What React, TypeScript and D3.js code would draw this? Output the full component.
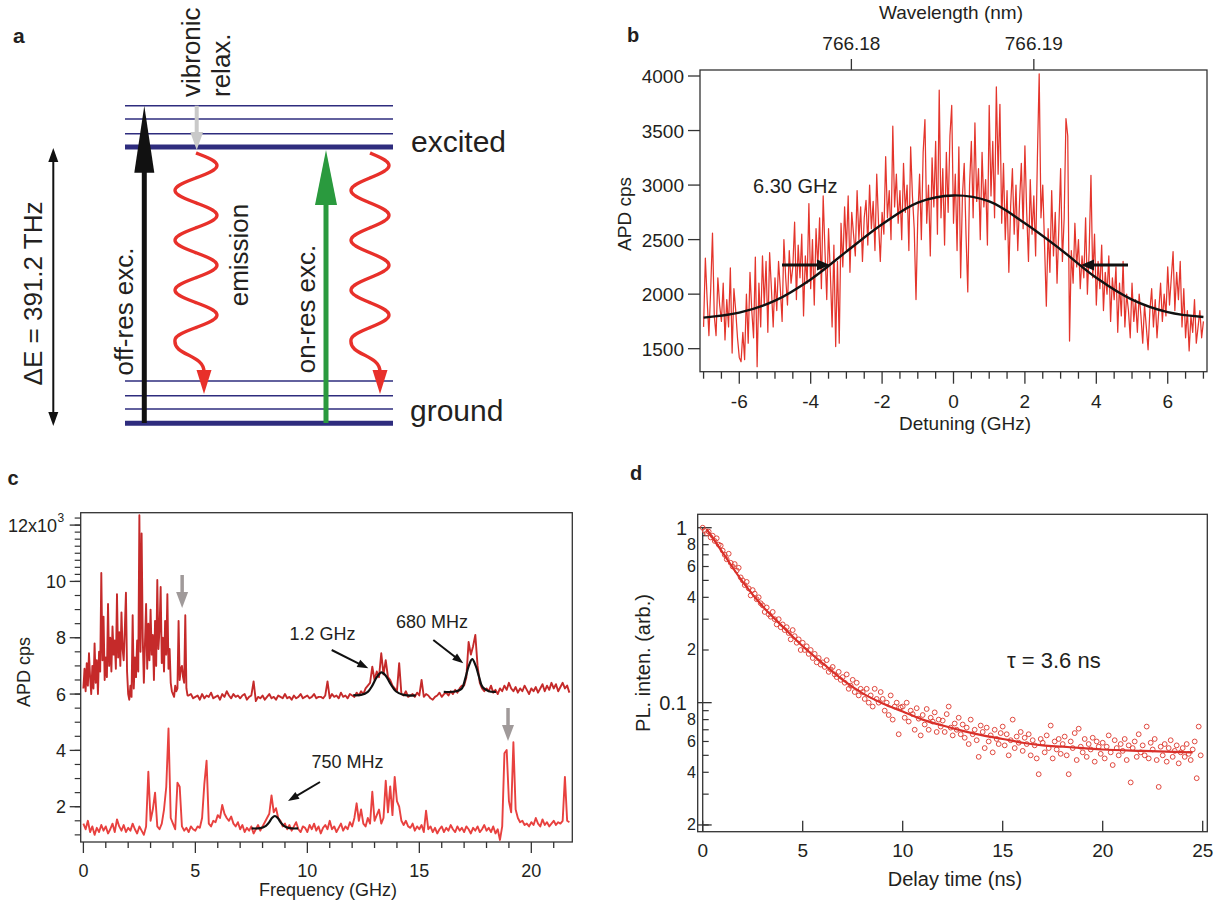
import React from 'react';
import * as d3 from 'd3';

const FONT = "'Liberation Sans', Arial, Helvetica, sans-serif";
const TXT = '#231f20';
const AX = '#333333';

// ---------------- Panel b data ----------------
const bDetuningStart = -7;
const bDetuningStep = 0.05;
const bCounts = [
  1700, 2330, 1950, 1620, 2050, 2560, 1800, 1620, 2150, 1900,
  1750, 2100, 1580, 1950, 1700, 2240, 1460, 2050, 1850, 1600,
  1420, 1380, 1650, 1400, 2000, 1550, 2200, 1850, 1600, 2340,
  1335, 2100, 1700, 2350, 1900, 2300, 1650, 2380, 2050, 1700,
  2150, 1850, 2300, 2050, 1750, 2500, 2150, 1900, 2400, 2100,
  2250, 2660, 1950, 2450, 2150, 2550, 1800, 2350, 2100, 2830,
  2050, 2500, 1900, 2600, 2250, 2700, 2050, 2900, 2400, 1950,
  2600, 2200, 1700, 2450, 1520, 2300, 1550, 2650, 2250, 2800,
  2400, 2900, 2200, 2750, 2550, 2350, 2950, 2500, 2800, 2300,
  2700, 2860, 2450, 3000, 2600, 2850, 2400, 3100, 2650, 2300,
  2750, 2550, 3260, 2700, 2950, 2500, 3540, 2800, 3100, 2650,
  2950, 2500, 3200, 2750, 3000, 2400, 3350, 2900, 2600, 1950,
  2700, 3100, 2500, 3300, 3600, 2650, 3000, 2350, 3250, 2800,
  3400, 2550, 3870, 2700, 3150, 2450, 3300, 2750, 3450, 3730,
  2650, 3100, 2400, 3350, 2150, 2900, 3200, 2550, 2020, 3000,
  3400, 2700, 3570, 2850, 3150, 2500, 3300, 2800, 3050, 2450,
  3730, 2900, 3400, 2700, 3900, 3100, 3740, 2650, 3200, 2500,
  2950, 2200, 2800, 3150, 2550, 3000, 2400, 2850, 3200, 2600,
  3360, 2750, 2300, 3050, 2550, 2900, 2350, 3250, 4020, 2700,
  3000, 2450, 1890, 2600, 2200, 2950, 2350, 2750, 2100, 2600,
  3150, 2300, 2700, 3610, 3450, 1570, 2400, 2100, 2650, 2250,
  2500, 2050, 2350, 2150, 2700, 2000, 2400, 3090, 2150, 2550,
  1900, 2300, 2050, 2450, 1850, 2200, 2000, 2350, 1750, 2150,
  1950, 2250, 1650, 2100, 1800, 2300, 1700, 2000, 1850, 1600,
  2100, 1750, 1950, 1650, 2000, 1800, 1550, 1900, 1700, 1490,
  1850, 2050, 1700, 1950, 1600, 1850, 2100, 1750, 2000, 1800,
  2250, 1900, 2150, 2390, 1850, 2200, 1950, 2300, 1700, 2050,
  1600, 1850, 1480, 1800, 1650, 1950, 1550, 1700, 1850, 1600,
  1750,
];
const bFitDetuning = [-7, -6, -5, -4, -3, -2, -1, 0, 1, 2, 3, 4, 5, 6, 7];
const bFitCounts = [1785, 1830, 1940, 2135, 2390, 2640, 2840, 2905, 2850, 2650, 2410, 2150, 1950, 1835, 1790];
const bYTicks = [1500, 2000, 2500, 3000, 3500, 4000];
const bXTicks = [-6, -4, -2, 0, 2, 4, 6];
const bWavelengthTicks = [766.18, 766.19];
const bWavelengthDetuning = [-2.86, 2.25];

// ---------------- Panel c data (x10^3 cps) ----------------
// upper trace, dense part 0 .. 4.65 GHz (0.05 GHz steps)
const cUpperDenseStep = 0.05;
const cUpperDense = [
  6.2, 6.9, 6.1, 7.1, 6.3, 7.45, 6.6, 6.0, 7.0, 6.2,
  7.8, 6.4, 7.2, 6.0, 7.5, 6.8, 10.3, 7.2, 8.75, 6.5,
  7.3, 6.6, 9.2, 7.0, 8.0, 6.8, 8.4, 7.4, 7.9, 6.9,
  9.55, 7.3, 8.2, 7.0, 8.9, 7.6, 7.2, 8.3, 9.6, 6.8,
  6.0, 5.8, 6.3, 5.9, 8.8, 6.2, 7.3, 6.6, 7.9, 6.8,
  12.35, 7.5, 11.7, 8.0, 6.4, 7.8, 9.2, 6.9, 8.5, 7.2,
  9.0, 7.4, 8.1, 6.5, 8.6, 7.0, 10.05, 7.6, 8.3, 9.8,
  7.1, 8.0, 6.8, 8.6, 7.4, 9.55, 6.9, 7.6, 6.4, 6.1,
  6.0, 5.9, 6.3, 6.1, 6.2, 8.6, 6.5, 6.9, 7.0, 6.6,
  6.4, 8.8, 6.2, 5.95,
];
// upper trace, 4.7 .. 21.7 GHz (0.1 GHz steps)
const cUpperTailStart = 4.7;
const cFreqStep = 0.1;
const cUpperTail = [
  5.95, 6.0, 5.85,
  5.9, 5.95, 5.8, 6.0, 5.85, 5.95, 5.9, 6.05, 5.85, 5.9,
  5.95, 5.8, 6.0, 5.9, 6.1, 5.95, 5.85, 6.0, 5.9, 5.95,
  5.85, 5.95, 6.0, 5.8, 5.9, 5.95, 6.45, 5.75, 5.9, 5.85,
  5.95, 5.8, 5.9, 6.0, 5.85, 5.9, 5.8, 5.95, 5.9, 5.85,
  6.0, 5.85, 5.9, 5.8, 5.95, 5.85, 5.9, 6.0, 5.85, 5.9,
  5.95, 5.85, 5.9, 6.0, 5.85, 5.9, 5.9, 5.85, 5.95, 6.45,
  5.85, 6.0, 5.9, 5.95, 5.85, 6.05, 5.9, 5.95, 5.85, 6.0,
  5.95, 5.9, 6.05, 5.95, 6.1, 6.0, 6.2, 6.3, 6.4, 6.97,
  6.5, 6.8, 6.6, 7.45, 6.7, 7.2, 6.6, 6.5, 6.3, 6.2,
  6.1, 7.1, 6.0, 5.95, 6.1, 5.9, 5.95, 6.0, 5.9, 6.05,
  5.95, 6.5, 5.9, 6.0, 5.95, 5.85, 5.8, 5.9, 5.95, 6.05,
  5.9, 6.0, 6.05, 5.95, 6.1, 6.0, 6.15, 6.05, 6.2, 6.3,
  6.3, 6.6, 7.85, 7.4, 7.7, 8.1, 7.0, 6.4, 6.2, 6.1,
  6.2, 6.1, 6.3, 6.05, 6.15, 6.0, 6.2, 6.1, 6.3, 6.15,
  6.4, 6.2, 6.1, 6.25, 6.05, 6.2, 6.1, 6.3, 6.15, 6.0,
  6.2, 6.1, 6.25, 6.05, 6.2, 6.35, 6.1, 6.3, 6.15, 6.4,
  6.2, 6.35, 6.1, 6.25, 6.4, 6.2, 6.3, 6.05,
];
const cLower = [
  1.4, 1.2, 1.5, 1.1, 1.3, 1.0, 1.25, 1.1, 1.35, 1.15,
  1.3, 1.05, 1.2, 1.4, 1.1, 1.55, 1.3, 1.15, 1.35, 1.1,
  1.25, 1.15, 1.4, 1.2, 1.05, 1.3, 1.15, 1.0, 1.3, 3.24,
  1.5, 1.9, 2.5, 1.3, 1.2, 1.4, 1.9, 2.7, 4.78, 1.6,
  1.4, 1.2, 2.85, 2.71, 1.3, 1.15, 1.25, 1.1, 1.3, 1.2,
  1.15, 1.3, 1.25, 1.6, 2.8, 3.63, 1.4, 1.3, 1.5, 1.45,
  1.7, 1.6, 2.06, 1.75, 1.6, 1.5, 1.65, 1.4, 1.3, 1.45,
  1.2, 1.35, 1.1, 1.25, 1.15, 1.3, 1.05, 1.2, 1.35, 1.15,
  1.3, 1.45, 1.6, 1.75, 2.4, 1.8, 1.95, 1.6, 1.5, 1.3,
  1.4, 1.2, 1.35, 1.15, 1.3, 1.45, 1.2, 1.1, 1.3, 1.25,
  1.1, 1.35, 1.2, 1.4, 1.15, 1.3, 1.05, 1.25, 1.35, 1.2,
  1.5, 1.2, 1.3, 1.1, 1.25, 1.4, 1.15, 1.3, 1.2, 1.45,
  1.3, 1.6, 2.12, 1.5, 1.9, 1.4, 1.3, 1.6, 1.4, 2.53,
  1.5, 1.7, 1.9, 1.4, 1.6, 2.92, 1.8, 2.72, 1.7, 3.06,
  2.2, 2.0, 1.5, 1.35, 1.5, 1.3, 1.25, 1.4, 1.15, 1.3,
  1.2, 1.35, 1.1, 1.86, 1.2, 1.3, 1.1, 1.25, 1.05, 1.2,
  1.3, 1.1, 1.25, 1.15, 1.35, 1.2, 1.1, 1.3, 1.15, 1.25,
  1.1, 1.3, 1.2, 1.05, 1.25, 1.15, 1.3, 1.1, 1.2, 1.35,
  1.15, 1.25, 1.1, 1.3, 1.05, 1.2, 0.82, 1.3, 3.9, 4.01,
  2.2, 1.8, 4.29, 1.9, 1.6, 1.45, 1.5, 1.35, 1.4, 1.3,
  1.45, 1.35, 1.6, 1.4, 1.3, 1.55, 1.35, 1.45, 1.3, 1.4,
  1.5, 1.35, 1.45, 1.4, 1.5, 3.06, 1.5, 1.45,
];
const cFit1X = [12.05, 12.4, 12.7, 12.9, 13.1, 13.31, 13.5, 13.7, 13.95, 14.3, 14.84];
const cFit1Y = [5.96, 5.97, 6.08, 6.3, 6.6, 6.77, 6.65, 6.38, 6.1, 5.97, 5.95];
const cFit2X = [16.09, 16.6, 16.9, 17.05, 17.2, 17.36, 17.52, 17.67, 17.82, 18.1, 18.42];
const cFit2Y = [6.08, 6.09, 6.2, 6.55, 6.98, 7.24, 7.0, 6.6, 6.25, 6.1, 6.08];
const cFit3X = [7.51, 7.9, 8.15, 8.3, 8.42, 8.55, 8.68, 8.8, 8.95, 9.2, 9.59];
const cFit3Y = [1.23, 1.24, 1.32, 1.45, 1.6, 1.67, 1.6, 1.45, 1.32, 1.24, 1.23];
const cYTicks = [2, 4, 6, 8, 10, 12];
const cXTicks = [0, 5, 10, 15, 20];

// ---------------- Panel d data ----------------
const dTimeStep = 0.1;
const dIntensity = [
  1.0, 0.96, 0.93, 0.95, 0.88, 0.9, 0.84, 0.87, 0.8, 0.79,
  0.74, 0.7, 0.66, 0.71, 0.63, 0.6, 0.62, 0.57, 0.59, 0.52,
  0.5, 0.47, 0.49, 0.45, 0.41, 0.44, 0.42, 0.39, 0.4, 0.37,
  0.36, 0.33, 0.35, 0.32, 0.31, 0.33, 0.3, 0.28, 0.3, 0.27,
  0.28, 0.26, 0.27, 0.25, 0.23, 0.26, 0.24, 0.22, 0.23, 0.2,
  0.22, 0.2, 0.21, 0.19, 0.2, 0.18, 0.19, 0.17, 0.18, 0.165,
  0.17, 0.16, 0.175, 0.15, 0.155, 0.16, 0.145, 0.14, 0.15, 0.135,
  0.14, 0.13, 0.145, 0.12, 0.125, 0.135, 0.115, 0.13, 0.11, 0.12,
  0.115, 0.105, 0.12, 0.1, 0.11, 0.095, 0.12, 0.105, 0.1, 0.115,
  0.105, 0.09, 0.1, 0.085, 0.11, 0.08, 0.095, 0.1, 0.066, 0.094,
  0.095, 0.082, 0.1, 0.078, 0.09, 0.086, 0.07, 0.093, 0.081, 0.065,
  0.085, 0.075, 0.092, 0.07, 0.082, 0.078, 0.088, 0.068, 0.08, 0.073,
  0.079, 0.068, 0.086, 0.095, 0.072, 0.065, 0.076, 0.07, 0.082, 0.066,
  0.075, 0.063, 0.072, 0.058, 0.08, 0.066, 0.07, 0.061, 0.049, 0.074,
  0.068, 0.055, 0.072, 0.06, 0.065, 0.052, 0.07, 0.062, 0.058, 0.067,
  0.073, 0.057, 0.066, 0.05, 0.061, 0.08, 0.055, 0.064, 0.059, 0.068,
  0.053, 0.063, 0.058, 0.066, 0.05, 0.061, 0.057, 0.048, 0.039, 0.062,
  0.059, 0.052, 0.065, 0.055, 0.074, 0.048, 0.06, 0.054, 0.062, 0.051,
  0.058, 0.064, 0.05, 0.039, 0.06, 0.055, 0.067, 0.047, 0.071, 0.056,
  0.052, 0.062, 0.049, 0.058, 0.054, 0.063, 0.046, 0.06, 0.056, 0.051,
  0.059, 0.048, 0.056, 0.065, 0.052, 0.044, 0.061, 0.055, 0.05, 0.058,
  0.053, 0.062, 0.047, 0.057, 0.035, 0.055, 0.06, 0.049, 0.066, 0.052,
  0.057, 0.05, 0.073, 0.048, 0.059, 0.054, 0.062, 0.047, 0.033, 0.056,
  0.05, 0.058, 0.046, 0.055, 0.061, 0.049, 0.053, 0.057, 0.045, 0.052,
  0.055, 0.049, 0.058, 0.051, 0.047, 0.054, 0.06, 0.037, 0.073, 0.05,
];
const dFitT = [0.2, 1, 2, 3, 4, 5, 6, 7, 8, 9, 10, 11, 12, 13, 14, 15, 16, 17, 18, 19, 20, 22, 24.5];
const dFitY = [0.98, 0.72, 0.49, 0.355, 0.272, 0.21, 0.168, 0.135, 0.113, 0.099, 0.089, 0.08, 0.074, 0.069, 0.065, 0.062, 0.059, 0.057, 0.056, 0.055, 0.054, 0.053, 0.052];
const dXTicks = [0, 5, 10, 15, 20, 25];
const dYMajor = [1, 0.1];
const dYLabeled = [0.8, 0.6, 0.4, 0.2, 0.08, 0.06, 0.04, 0.02];

// ---------------- helpers ----------------
type ArrowProps = { x1: number; y1: number; x2: number; y2: number; w: number; hl: number; hw: number; color: string };
const Arrow = ({ x1, y1, x2, y2, w, hl, hw, color }: ArrowProps) => {
  const dx = x2 - x1, dy = y2 - y1;
  const len = Math.hypot(dx, dy);
  const ux = dx / len, uy = dy / len;
  const bx = x2 - ux * hl, by = y2 - uy * hl;
  const px = -uy, py = ux;
  return (
    <g>
      <line x1={x1} y1={y1} x2={bx + ux * 2} y2={by + uy * 2} stroke={color} strokeWidth={w} />
      <polygon
        points={`${x2},${y2} ${bx + (px * hw) / 2},${by + (py * hw) / 2} ${bx - (px * hw) / 2},${by - (py * hw) / 2}`}
        fill={color}
      />
    </g>
  );
};

const wavePath = (cx: number, y0: number, y1: number, amp: number, periods: number, tipX: number, headTop: number) => {
  const pts: [number, number][] = [];
  for (let y = y0; y <= y1; y += 1) {
    pts.push([cx + amp * Math.sin((2 * Math.PI * periods * (y - y0)) / (y1 - y0)), y]);
  }
  const line = d3.line().curve(d3.curveBasis)(pts) as string;
  const ex = cx + amp * Math.sin(2 * Math.PI * periods);
  return `${line} C ${ex - 2},${y1 + 16} ${tipX},${headTop - 16} ${tipX},${headTop + 2}`;
};

// ---------------- Panel A ----------------
const LEVEL = '#2e2c7e';
const PanelA = () => {
  const thinTop = [105.7, 119, 133.7];
  const thinBot = [381, 395.7, 409];
  return (
    <g fontFamily={FONT} fill={TXT}>
      <text x={13} y={43} fontSize={21} fontWeight="bold">a</text>
      {thinTop.concat(thinBot).map((y, i) => (
        <line key={i} x1={125} x2={393} y1={y} y2={y} stroke={LEVEL} strokeWidth={1.6} />
      ))}
      <line x1={125} x2={393} y1={147} y2={147} stroke={LEVEL} strokeWidth={5} />
      <line x1={125} x2={393} y1={423.3} y2={423.3} stroke={LEVEL} strokeWidth={5} />
      <line x1={53.3} x2={53.3} y1={156} y2={418} stroke="#111" strokeWidth={2} />
      <polygon points="53.3,148 48.3,162 58.3,162" fill="#111" />
      <polygon points="53.3,426 48.3,412 58.3,412" fill="#111" />
      <Arrow x1={144.3} y1={423} x2={144.3} y2={105.7} w={5} hl={67} hw={20} color="#111" />
      <Arrow x1={196.7} y1={105.7} x2={196.7} y2={150} w={4} hl={18} hw={13} color="#c9c9c9" />
      <Arrow x1={326} y1={423} x2={326} y2={150} w={5} hl={55} hw={22} color="#2a9a3e" />
      <path d={wavePath(196, 153, 340, 21, 3.75, 204, 370)} fill="none" stroke="#e8302a" strokeWidth={3.4} />
      <polygon points="204,394 196.5,370 211.5,370" fill="#e8302a" />
      <path d={wavePath(370, 153, 340, 19, 3.75, 380, 370)} fill="none" stroke="#e8302a" strokeWidth={3.4} />
      <polygon points="380,394 372.5,370 387.5,370" fill="#e8302a" />
      <text transform="translate(41.5,293.5) rotate(-90)" textAnchor="middle" fontSize={26}>ΔE = 391.2 THz</text>
      <text transform="translate(133,311.5) rotate(-90)" textAnchor="middle" fontSize={26}>off-res exc.</text>
      <text transform="translate(315,309) rotate(-90)" textAnchor="middle" fontSize={26}>on-res exc.</text>
      <text transform="translate(248,255) rotate(-90)" textAnchor="middle" fontSize={26}>emission</text>
      <text transform="translate(200,97) rotate(-90)" textAnchor="start" fontSize={26}>vibronic</text>
      <text transform="translate(230,97) rotate(-90)" textAnchor="start" fontSize={26}>relax.</text>
      <text x={411} y={151.5} fontSize={30}>excited</text>
      <text x={410} y={421} fontSize={30}>ground</text>
    </g>
  );
};

// ---------------- Panel B ----------------
const PanelB = () => {
  const L = 700, R = 1207, T = 70, B = 371.7;
  const x = d3.scaleLinear().domain([-7.1, 7.1]).range([L, R]);
  const y = d3.scaleLinear().domain([1289, 4055]).range([B, T]);
  const xTop = d3.scaleLinear().domain(bWavelengthTicks).range(bWavelengthDetuning.map((d) => x(d)));
  const data = bCounts.map((v, i) => [bDetuningStart + i * bDetuningStep, v] as [number, number]);
  const line = d3.line<[number, number]>().x((d) => x(d[0])).y((d) => y(d[1]));
  const fitLine = d3
    .line<number>()
    .x((_, i) => x(bFitDetuning[i]))
    .y((d) => y(d))
    .curve(d3.curveCatmullRom);
  const minor = d3.range(-7, 7.001, 0.5);
  return (
    <g fontFamily={FONT} fill={TXT}>
      <text x={627} y={41.7} fontSize={20} fontWeight="bold">b</text>
      <defs>
        <clipPath id="clipB"><rect x={L} y={T} width={R - L} height={B - T} /></clipPath>
      </defs>
      <g clipPath="url(#clipB)">
        <path d={line(data) as string} fill="none" stroke="#e4352c" strokeWidth={1.25} strokeLinejoin="round" />
        <path d={fitLine(bFitCounts) as string} fill="none" stroke="#111" strokeWidth={2.4} />
      </g>
      <rect x={L} y={T} width={R - L} height={B - T} fill="none" stroke={AX} strokeWidth={1.3} />
      {minor.map((v) => (
        <line key={v} x1={x(v)} x2={x(v)} y1={B} y2={B + (Math.abs(v % 2) < 1e-9 ? 12 : 7)} stroke={AX} strokeWidth={1.3} />
      ))}
      {bXTicks.map((v) => (
        <text key={v} x={x(v)} y={407.5} textAnchor="middle" fontSize={19}>{v}</text>
      ))}
      <text x={965} y={430} textAnchor="middle" fontSize={19}>Detuning (GHz)</text>
      {bYTicks.map((v) => (
        <g key={v}>
          <line x1={L - 12} x2={L} y1={y(v)} y2={y(v)} stroke={AX} strokeWidth={1.3} />
          <text x={684} y={y(v) + 7} textAnchor="end" fontSize={19}>{v}</text>
        </g>
      ))}
      <text transform="translate(631,214) rotate(-90)" textAnchor="middle" fontSize={19}>APD cps</text>
      {bWavelengthTicks.map((w) => (
        <g key={w}>
          <line x1={xTop(w)} x2={xTop(w)} y1={T} y2={T - 11} stroke={AX} strokeWidth={1.3} />
          <text x={xTop(w)} y={50} textAnchor="middle" fontSize={19}>{w.toFixed(2)}</text>
        </g>
      ))}
      <text x={951} y={18.5} textAnchor="middle" fontSize={19}>Wavelength (nm)</text>
      <text x={753} y={192.7} fontSize={20}>6.30 GHz</text>
      <Arrow x1={782} y1={265} x2={830} y2={265} w={3} hl={13} hw={11} color="#111" />
      <Arrow x1={1128} y1={265} x2={1081} y2={265} w={3} hl={13} hw={11} color="#111" />
    </g>
  );
};

// ---------------- Panel C ----------------
const PanelC = () => {
  const L = 80.7, R = 572.3, T = 512.7, B = 842;
  const x = d3.scaleLinear().domain([-0.12, 21.83]).range([L, R]);
  const y = d3.scaleLinear().domain([0.747, 12.44]).range([B, T]);
  const upperPts: [number, number][] = cUpperDense
    .map((v, i) => [i * cUpperDenseStep, v] as [number, number])
    .concat(cUpperTail.map((v, i) => [cUpperTailStart + i * cFreqStep, v] as [number, number]));
  const lowerPts: [number, number][] = cLower.map((v, i) => [i * cFreqStep, v] as [number, number]);
  const ln = d3.line<[number, number]>().x((d) => x(d[0])).y((d) => y(d[1]));
  const fit = (xs: number[], ys: number[]) =>
    d3.line<number>().x((_, i) => x(xs[i])).y((d) => y(d)).curve(d3.curveCatmullRom)(ys) as string;
  const yMinor = d3.range(1, 10.001, 0.5).concat(d3.range(10.25, 12.3, 0.25));
  const xMinor = d3.range(0, 21.5, 1);
  return (
    <g fontFamily={FONT} fill={TXT}>
      <text x={7.5} y={485} fontSize={20} fontWeight="bold">c</text>
      <defs>
        <clipPath id="clipC"><rect x={L} y={T} width={R - L} height={B - T} /></clipPath>
      </defs>
      <g clipPath="url(#clipC)">
        <path d={ln(upperPts) as string} fill="none" stroke="#c52a2a" strokeWidth={1.9} strokeLinejoin="round" />
        <path d={ln(lowerPts) as string} fill="none" stroke="#e8413f" strokeWidth={1.9} strokeLinejoin="round" />
        <path d={fit(cFit1X, cFit1Y)} fill="none" stroke="#111" strokeWidth={2.2} />
        <path d={fit(cFit2X, cFit2Y)} fill="none" stroke="#111" strokeWidth={2.2} />
        <path d={fit(cFit3X, cFit3Y)} fill="none" stroke="#111" strokeWidth={2.2} />
      </g>
      <rect x={L} y={T} width={R - L} height={B - T} fill="none" stroke={AX} strokeWidth={1.3} />
      {yMinor.map((v) => (
        <line key={'m' + v} x1={L - 6} x2={L} y1={y(v)} y2={y(v)} stroke={AX} strokeWidth={1.2} />
      ))}
      {cYTicks.map((v) => (
        <g key={v}>
          <line x1={L - 11} x2={L} y1={y(v)} y2={y(v)} stroke={AX} strokeWidth={1.3} />
          {v === 12 ? (
            <text x={57} y={y(v) + 6.5} textAnchor="end" fontSize={18}>12x10</text>
          ) : (
            <text x={66} y={y(v) + 6.5} textAnchor="end" fontSize={18}>{v}</text>
          )}
        </g>
      ))}
      <text x={57.5} y={y(12) - 3} fontSize={12}>3</text>
      <text transform="translate(30,672) rotate(-90)" textAnchor="middle" fontSize={18}>APD cps</text>
      {xMinor.map((v) => (
        <line key={v} x1={x(v)} x2={x(v)} y1={B} y2={B + (v % 5 === 0 ? 11 : 6)} stroke={AX} strokeWidth={1.3} />
      ))}
      {cXTicks.map((v) => (
        <text key={v} x={x(v)} y={877} textAnchor="middle" fontSize={18}>{v}</text>
      ))}
      <text x={328} y={896} textAnchor="middle" fontSize={18}>Frequency (GHz)</text>
      <Arrow x1={x(4.41)} y1={575} x2={x(4.41)} y2={608} w={3.5} hl={16} hw={12} color="#a09a9a" />
      <Arrow x1={x(18.96)} y1={708} x2={x(18.96)} y2={741} w={3.5} hl={16} hw={12} color="#a09a9a" />
      <text x={289.5} y={640} fontSize={18}>1.2 GHz</text>
      <Arrow x1={331.7} y1={650} x2={368.3} y2={668.3} w={2} hl={11} hw={8} color="#111" />
      <text x={396} y={628} fontSize={18}>680 MHz</text>
      <Arrow x1={433.3} y1={640} x2={463.3} y2={663.3} w={2} hl={11} hw={8} color="#111" />
      <text x={311.5} y={768} fontSize={18}>750 MHz</text>
      <Arrow x1={320} y1={782} x2={288} y2={801} w={2} hl={11} hw={8} color="#111" />
    </g>
  );
};

// ---------------- Panel D ----------------
const PanelD = () => {
  const L = 697.7, R = 1207.3, T = 514.3, B = 831.7;
  const x = d3.scaleLinear().domain([-0.25, 25.23]).range([L, R]);
  const y = d3.scaleLog().domain([0.0183, 1.193]).range([B, T]);
  const x0 = x(0);
  const fitLine = d3
    .line<number>()
    .x((_, i) => x(dFitT[i]))
    .y((d) => y(d))
    .curve(d3.curveMonotoneX);
  const minorTicks: number[] = [];
  [0.01, 0.1].forEach((dec) => {
    for (let k = 2; k <= 9; k++) minorTicks.push(k * dec);
  });
  return (
    <g fontFamily={FONT} fill={TXT}>
      <text x={630} y={480} fontSize={20} fontWeight="bold">d</text>
      <rect x={L} y={T} width={R - L} height={B - T} fill="none" stroke={AX} strokeWidth={1.3} />
      <line x1={x0} x2={x0} y1={y(1)} y2={B} stroke={AX} strokeWidth={1.3} />
      {minorTicks.map((v) => (
        <line key={v} x1={x0} x2={x0 + 6} y1={y(v)} y2={y(v)} stroke={AX} strokeWidth={1.2} />
      ))}
      {dYMajor.map((v) => (
        <g key={v}>
          <line x1={L} x2={x0 + 9} y1={y(v)} y2={y(v)} stroke={AX} strokeWidth={1.3} />
          <text x={687} y={y(v) + 7} textAnchor="end" fontSize={20}>{v === 1 ? '1' : '0.1'}</text>
        </g>
      ))}
      <line x1={L} x2={x0 + 9} y1={y(0.02)} y2={y(0.02)} stroke={AX} strokeWidth={1.3} />
      {dYLabeled.map((v) => (
        <text key={v} x={696} y={y(v) + 5.5} textAnchor="end" fontSize={16}>
          {Math.round(v >= 0.1 ? v * 10 : v * 100)}
        </text>
      ))}
      <text transform="translate(650,663) rotate(-90)" textAnchor="middle" fontSize={20}>PL. inten. (arb.)</text>
      {dXTicks.map((v) => (
        <g key={v}>
          <line x1={x(v)} x2={x(v)} y1={B} y2={B - 11} stroke={AX} strokeWidth={1.3} />
          <text x={x(v)} y={857} textAnchor="middle" fontSize={19}>{v}</text>
        </g>
      ))}
      <text x={955} y={885.5} textAnchor="middle" fontSize={20}>Delay time (ns)</text>
      {dIntensity.map((v, i) => (
        <circle key={i} cx={x(i * dTimeStep)} cy={y(v)} r={2.4} fill="none" stroke="#e0483e" strokeWidth={1} />
      ))}
      <path d={fitLine(dFitY) as string} fill="none" stroke="#d9302a" strokeWidth={2.2} />
      <text x={1007} y={668} fontSize={22}>τ = 3.6 ns</text>
    </g>
  );
};

export default function App() {
  return (
    <div style={{ width: 1221, height: 903, background: '#fff' }}>
      <style>{'body{margin:0;background:#fff;}'}</style>
      <svg width={1221} height={903} viewBox="0 0 1221 903" style={{ display: 'block' }}>
        <rect x={0} y={0} width={1221} height={903} fill="#fff" />
        <PanelA />
        <PanelB />
        <PanelC />
        <PanelD />
      </svg>
    </div>
  );
}
